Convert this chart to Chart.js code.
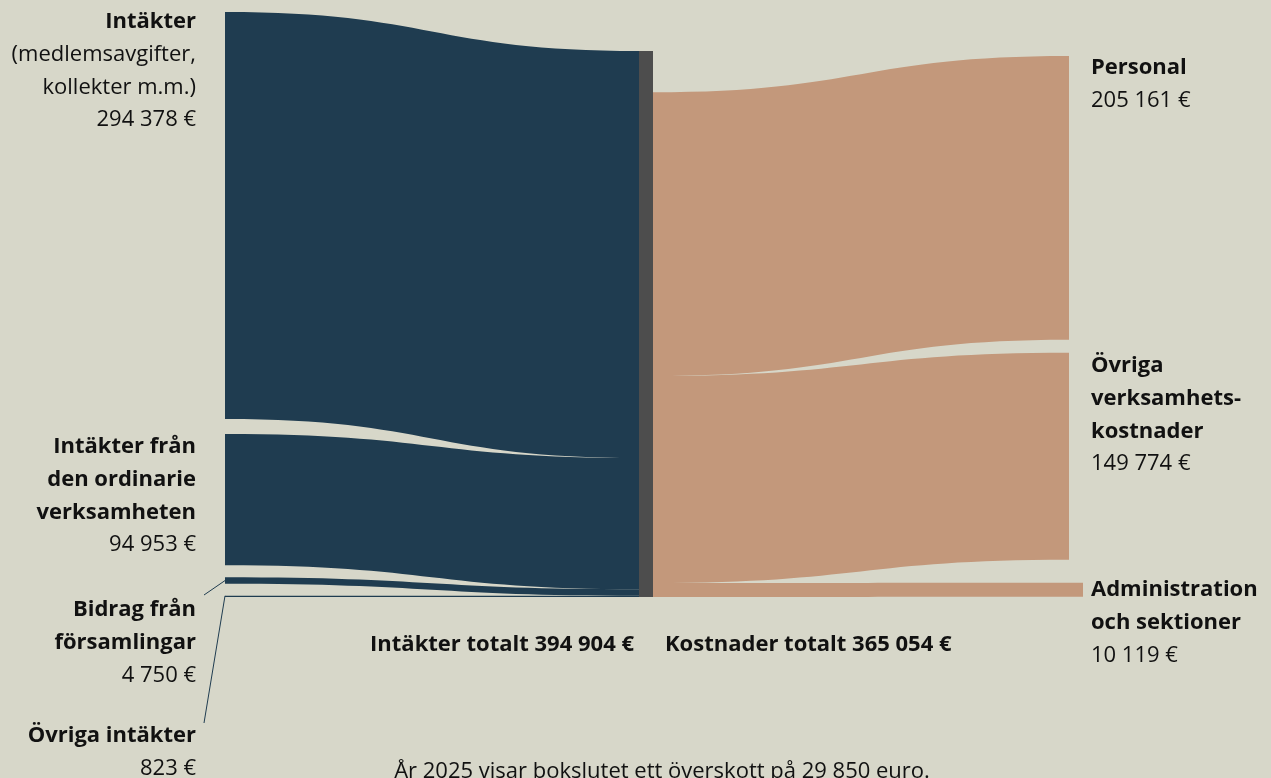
<!DOCTYPE html>
<html>
<head>
<meta charset="utf-8">
<script src="https://cdn.jsdelivr.net/npm/chart.js@4.4.1/dist/chart.umd.min.js"></script>
<style>
  html, body { margin: 0; padding: 0; background: #d7d7c9; overflow: hidden; }
  #wrap { width: 1271px; height: 778px; }
</style>
</head>
<body>
<div id="wrap"><canvas id="sankey"></canvas></div>
<script>
// data
var incomeLabels = [
    ['Intäkter'],
    ['Intäkter från', 'den ordinarie', 'verksamheten'],
    ['Bidrag från', 'församlingar'],
    ['Övriga intäkter']
];
var incomeNotes = [['(medlemsavgifter,', 'kollekter m.m.)'], [], [], []];
var incomeValues = [294378, 94953, 4750, 823];

var costLabels = [
    ['Personal'],
    ['Övriga', 'verksamhets-', 'kostnader'],
    ['Administration', 'och sektioner']
];
var costValues = [205161, 149774, 10119];

var incomeTotal = 394904;
var costTotal = 365054;
var surplus = 29850;
var year = 2025;

// layout (pixels)
var leftStart = -39, leftGaps = [15, 12, 12];
var rightStart = 5, rightGaps = [13, 23];
var leftLabelY = [22, 447, 610, 736];
var rightLabelY = [68, 366, 590];
var lineH = 32.7;

var NAVY = '#1f3c50', TAN = '#c3987b', MID = '#4d4d4d', INK = '#111111';
var BOLD = '700 22px "Open Sans", Lato, sans-serif';
var REG = '400 22px "Open Sans", Lato, sans-serif';

function fmt(v) {
    return String(v).replace(/\B(?=(\d{3})+(?!\d))/g, ' ') + ' €';
}

function flow(ctx, x0, t0, b0, x1, t1, b1, color) {
    var xm = (x0 + x1) / 2;
    ctx.fillStyle = color;
    ctx.beginPath();
    ctx.moveTo(x0, t0);
    ctx.bezierCurveTo(xm, t0, xm, t1, x1, t1);
    ctx.lineTo(x1, b1);
    ctx.bezierCurveTo(xm, b1, xm, b0, x0, b0);
    ctx.closePath();
    ctx.fill();
}

var sankeyPlugin = {
    id: 'sankey',
    beforeDatasetsDraw: function(chart) {
        var ctx = chart.ctx, x = chart.scales.x, y = chart.scales.y;
        var xL = x.getPixelForValue(225), xM0 = x.getPixelForValue(639),
            xM1 = x.getPixelForValue(653), xR = x.getPixelForValue(1069);
        var leftPos = [];
        ctx.save();

        // income flows
        var cum = 0, gap = leftStart;
        for (var i = 0; i < incomeValues.length; i++) {
            if (i > 0) gap += leftGaps[i - 1];
            var t0 = y.getPixelForValue(cum) + gap;
            var b0 = y.getPixelForValue(cum + incomeValues[i]) + gap;
            var t1 = y.getPixelForValue(cum);
            var b1 = y.getPixelForValue(cum + incomeValues[i]);
            flow(ctx, xL, t0, Math.max(b0, t0 + 1), xM0, t1, Math.max(b1, t1 + 1), NAVY);
            leftPos[i] = [t0, b0];
            cum += incomeValues[i];
        }

        // cost flows (stacked at the bottom of the middle node)
        cum = incomeTotal - costTotal;
        var rcum = 0; gap = rightStart;
        for (var j = 0; j < costValues.length; j++) {
            if (j > 0) gap += rightGaps[j - 1];
            var mt = y.getPixelForValue(cum), mb = y.getPixelForValue(cum + costValues[j]);
            var rt = y.getPixelForValue(rcum) + gap, rb = y.getPixelForValue(rcum + costValues[j]) + gap;
            var xEnd = j === costValues.length - 1 ? xR + 14 : xR;
            flow(ctx, xM1, mt, mb, xEnd, rt, rb, TAN);
            cum += costValues[j];
            rcum += costValues[j];
        }

        // middle node
        ctx.fillStyle = MID;
        ctx.fillRect(xM0, y.getPixelForValue(0), xM1 - xM0, y.getPixelForValue(incomeTotal) - y.getPixelForValue(0));

        // leader lines for the thin income flows
        ctx.strokeStyle = NAVY;
        ctx.lineWidth = 1;
        ctx.beginPath();
        ctx.moveTo(204, 595); ctx.lineTo(xL, (leftPos[2][0] + leftPos[2][1]) / 2);
        ctx.moveTo(204, 723); ctx.lineTo(xL, leftPos[3][0]);
        ctx.stroke();
        ctx.restore();
    },
    afterDraw: function(chart) {
        var ctx = chart.ctx;
        ctx.save();
        ctx.fillStyle = INK;
        ctx.textBaseline = 'middle';

        // left labels
        ctx.textAlign = 'right';
        for (var i = 0; i < incomeLabels.length; i++) {
            var yy = leftLabelY[i];
            ctx.font = BOLD;
            incomeLabels[i].forEach(function(s) { ctx.fillText(s, 196, yy); yy += lineH; });
            ctx.font = REG;
            incomeNotes[i].forEach(function(s) { ctx.fillText(s, 196, yy); yy += lineH; });
            ctx.fillText(fmt(incomeValues[i]), 196, yy);
        }

        // right labels
        ctx.textAlign = 'left';
        for (var j = 0; j < costLabels.length; j++) {
            var ry = rightLabelY[j];
            ctx.font = BOLD;
            costLabels[j].forEach(function(s) { ctx.fillText(s, 1091, ry); ry += lineH; });
            ctx.font = REG;
            ctx.fillText(fmt(costValues[j]), 1091, ry);
        }

        // totals
        ctx.font = BOLD;
        ctx.textAlign = 'right';
        ctx.fillText('Intäkter totalt ' + fmt(incomeTotal), 634, 645);
        ctx.textAlign = 'left';
        ctx.fillText('Kostnader totalt ' + fmt(costTotal), 665, 645);

        ctx.font = REG;
        ctx.textAlign = 'center';
        ctx.fillText('År ' + year + ' visar bokslutet ett överskott på ' +
            String(surplus).replace(/\B(?=(\d{3})+(?!\d))/g, ' ') + ' euro.', 662, 772);
        ctx.restore();
    }
};

new Chart(document.getElementById('sankey'), {
    type: 'scatter',
    data: { datasets: [{ data: [] }] },
    options: {
        responsive: true,
        maintainAspectRatio: false,
        animation: false,
        layout: { padding: 0 },
        plugins: { legend: { display: false }, tooltip: { enabled: false } },
        scales: {
            x: { type: 'linear', min: 0, max: 1271, display: false },
            y: { type: 'linear', min: -36887, max: 525826, reverse: true, display: false }
        }
    },
    plugins: [sankeyPlugin]
});
</script>
</body>
</html>
